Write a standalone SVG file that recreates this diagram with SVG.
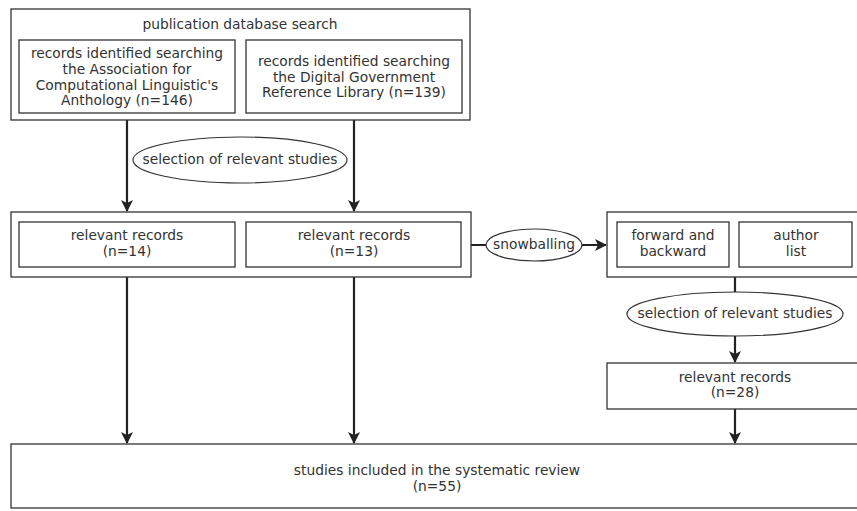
<svg xmlns="http://www.w3.org/2000/svg" width="857" height="511" viewBox="0 0 857 511">
<style>
.box{fill:#fff;stroke:#333;stroke-width:1.3}
.ell{fill:#fff;stroke:#333;stroke-width:1.2}
.t{font-family:"DejaVu Sans",sans-serif;font-size:13.8px;fill:#333;text-anchor:middle}
.c{stroke:#222;stroke-width:2.2;fill:none}
</style>
<defs>
<marker id="ah" markerWidth="12" markerHeight="12" refX="11" refY="6" orient="auto" markerUnits="userSpaceOnUse">
<path d="M0,0 L12,6 L0,12 L3,6 Z" fill="#222"/>
</marker>
</defs>
<rect width="857" height="511" fill="#fff"/>
<g id="connectors">
<line class="c" x1="127" y1="120" x2="127" y2="211" marker-end="url(#ah)"/>
<line class="c" x1="354" y1="120" x2="354" y2="211" marker-end="url(#ah)"/>
<line class="c" x1="127" y1="277" x2="127" y2="443" marker-end="url(#ah)"/>
<line class="c" x1="354" y1="277" x2="354" y2="443" marker-end="url(#ah)"/>
<line class="c" x1="471" y1="245" x2="606" y2="245" marker-end="url(#ah)"/>
<line class="c" x1="735" y1="277" x2="735" y2="362" marker-end="url(#ah)"/>
<line class="c" x1="735" y1="409" x2="735" y2="443" marker-end="url(#ah)"/>
</g>
<g id="search">
<rect class="box" x="11" y="9" width="459" height="111"/>
<text class="t" x="240" y="29">publication database search</text>
</g>
<g id="acl">
<rect class="box" x="19" y="40" width="216" height="73"/>
<text class="t" x="127" y="58">records identified searching</text>
<text class="t" x="127" y="74">the Association for</text>
<text class="t" x="127" y="90">Computational Linguistic's</text>
<text class="t" x="127" y="105">Anthology (n=146)</text>
</g>
<g id="dgrl">
<rect class="box" x="246" y="40" width="216" height="73"/>
<text class="t" x="354" y="66">records identified searching</text>
<text class="t" x="354" y="82">the Digital Government</text>
<text class="t" x="354" y="97">Reference Library (n=139)</text>
</g>
<g id="selection1">
<ellipse class="ell" cx="240" cy="160" rx="107" ry="23"/>
<text class="t" x="240" y="164">selection of relevant studies</text>
</g>
<g id="relevant">
<rect class="box" x="11" y="212" width="460" height="65"/>
</g>
<g id="rel14">
<rect class="box" x="19" y="222" width="216" height="45"/>
<text class="t" x="127" y="240">relevant records</text>
<text class="t" x="127" y="256">(n=14)</text>
</g>
<g id="rel13">
<rect class="box" x="246" y="222" width="215" height="45"/>
<text class="t" x="354" y="240">relevant records</text>
<text class="t" x="354" y="256">(n=13)</text>
</g>
<g id="snowballing">
<ellipse class="ell" cx="534" cy="245" rx="48" ry="16"/>
<text class="t" x="534" y="249">snowballing</text>
</g>
<g id="snowbox">
<rect class="box" x="607" y="212" width="255" height="65"/>
</g>
<g id="fwd">
<rect class="box" x="617" y="222" width="112" height="45"/>
<text class="t" x="673" y="240">forward and</text>
<text class="t" x="673" y="256">backward</text>
</g>
<g id="author">
<rect class="box" x="739" y="222" width="113" height="45"/>
<text class="t" x="796" y="240">author</text>
<text class="t" x="796" y="256">list</text>
</g>
<g id="selection2">
<ellipse class="ell" cx="735" cy="314" rx="108" ry="22"/>
<text class="t" x="735" y="318">selection of relevant studies</text>
</g>
<g id="rel28">
<rect class="box" x="607" y="363" width="255" height="46"/>
<text class="t" x="735" y="382">relevant records</text>
<text class="t" x="735" y="397">(n=28)</text>
</g>
<g id="included">
<rect class="box" x="11" y="444" width="851" height="64"/>
<text class="t" x="437" y="475">studies included in the systematic review</text>
<text class="t" x="437" y="491">(n=55)</text>
</g>
</svg>
